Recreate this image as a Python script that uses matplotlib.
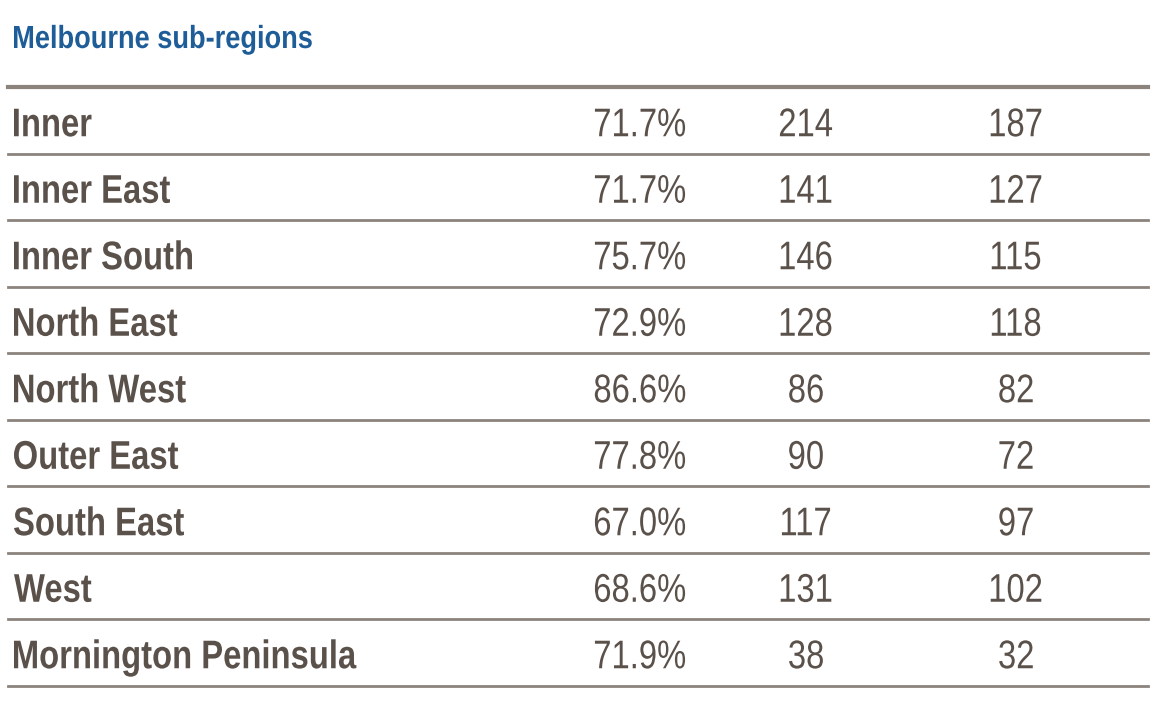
import matplotlib.pyplot as plt
from matplotlib.textpath import TextPath
from matplotlib.patches import PathPatch
from matplotlib.font_manager import FontProperties
from matplotlib.transforms import Affine2D

regions = ["Inner", "Inner East", "Inner South", "North East", "North West",
           "Outer East", "South East", "West", "Mornington Peninsula"]
pct = ["71.7%", "71.7%", "75.7%", "72.9%", "86.6%", "77.8%", "67.0%", "68.6%", "71.9%"]
col2 = [214, 141, 146, 128, 86, 90, 117, 131, 38]
col3 = [187, 127, 115, 118, 82, 72, 97, 102, 32]

text_col = "#5b514b"
line_col = "#8c837d"

fig = plt.figure(figsize=(11.6, 7.04), dpi=100)
ax = fig.add_axes([0, 0, 1, 1])
ax.set_xlim(0, 1160)
ax.set_ylim(704, 0)
ax.axis("off")


def narrow_text(x, y, s, size, color, bold=False, ha="left", sx=0.82):
    # condensed text: draw glyph outlines squeezed horizontally
    fp = FontProperties(family="Liberation Sans", weight="bold" if bold else "normal")
    tp = TextPath((0, 0), s, size=size, prop=fp)
    ext = tp.get_extents()
    w = ext.width * sx
    x0 = x - w / 2 if ha == "center" else x
    tr = Affine2D().translate(-ext.x0, 0).scale(sx, -1).translate(x0, y)
    ax.add_patch(PathPatch(tr.transform_path(tp), fc=color, ec="none"))


narrow_text(14, 48, "Melbourne sub-regions", 32, "#1e5d98", bold=True, sx=0.85)

top = 87
step = 66.5
ax.plot([8, 1148], [top, top], color=line_col, lw=3)
for i, name in enumerate(regions):
    base = top + step * (i + 0.5) + 16
    yb = top + step * (i + 1)
    ax.plot([8, 1148], [yb, yb], color=line_col, lw=2)
    narrow_text(14, base, name, 40, text_col, bold=True)
    narrow_text(640, base, pct[i], 40, text_col, ha="center")
    narrow_text(806, base, str(col2[i]), 40, text_col, ha="center")
    narrow_text(1016, base, str(col3[i]), 40, text_col, ha="center")

fig.savefig("out.png", dpi=100)
